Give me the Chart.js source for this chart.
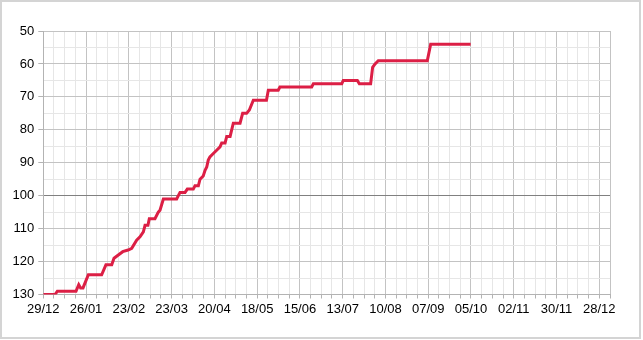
<!DOCTYPE html>
<html>
<head>
<meta charset="utf-8">
<script src="https://cdn.jsdelivr.net/npm/chart.js@4/dist/chart.umd.min.js"></script>
<style>
  html, body { margin: 0; padding: 0; background: #fff; }
  #wrap { width: 643px; height: 340px; position: relative; }
  canvas { display: block; }
</style>
</head>
<body>
<div id="wrap"><canvas id="c" width="643" height="340"></canvas></div>
<script>
// Start date of the axis (day 0) and data
const startDate = [2014, 11, 29]; // 29/12
const dayOffsets = [0, 7.7, 9.2, 21.4, 23.2, 24.4, 26, 29.5, 38.2, 41, 44.8, 46.3, 49.1, 52, 55.5, 57.9,
  61.1, 63.3, 65.5, 66.6, 68.5, 69.4, 73.1, 75.3, 76.4, 78.6, 87.3, 89.5, 92.8, 94.3, 98.2, 99.3, 101.5,
  102.6, 104.7, 105.9, 107, 108, 109.1, 111.3, 113.5, 115.7, 116.8, 119, 120.1, 122.3, 124.4, 128.8,
  130.5, 133.1, 134.9, 137.5, 146.1, 147.3, 153.8, 154.9, 175.7, 176.8, 195.4, 196.4, 205.6, 206.9,
  214.3, 215.6, 217.2, 219.3, 251.4, 253.6, 279.8];
const values = [130, 130, 129, 129, 127, 128, 128, 124, 124, 121, 121, 119, 118, 117, 116.5, 116,
  113.5, 112.5, 111, 109, 109, 107, 107, 105, 104.4, 101, 101, 99, 99, 98, 98, 97, 97,
  95, 94, 92.3, 91.3, 89.2, 88.2, 87.2, 86.2, 85.2, 84, 84, 82, 82, 78, 78,
  75, 75, 74, 71, 71, 68, 68, 67, 67, 66, 66, 65, 65, 66,
  66, 61, 60, 59, 59, 54, 54];
const xMin = 0, xMax = 371, xStep = 7, xLabelEvery = 28, xLastLabel = 364;
const yMin = 50, yMax = 130, yStep = 5, yLabelEvery = 10, yHighlight = 100;

function dayLabel(d) {
  const dt = new Date(Date.UTC(startDate[0], startDate[1], startDate[2]) + d * 86400000);
  const dd = String(dt.getUTCDate()).padStart(2, '0');
  const mm = String(dt.getUTCMonth() + 1).padStart(2, '0');
  return dd + '/' + mm;
}

const points = dayOffsets.map((d, i) => ({ x: d, y: values[i] }));

const frame = {
  id: 'frame',
  afterDraw(chart) {
    const ctx = chart.ctx;
    ctx.save();
    ctx.strokeStyle = '#d4d4d4';
    ctx.lineWidth = 2;
    ctx.strokeRect(1, 1, 639, 337);
    ctx.restore();
  }
};

const MAJOR = '#c3c3c3', MINOR = '#e6e6e6', DARK = '#808080';

new Chart(document.getElementById('c'), {
  type: 'line',
  data: {
    datasets: [{
      data: points,
      borderColor: '#dc1f45',
      borderWidth: 3,
      pointRadius: 0,
      tension: 0,
      fill: false
    }]
  },
  plugins: [frame],
  options: {
    responsive: false,
    animation: false,
    events: [],
    layout: { padding: { left: 0, right: 33, top: 31, bottom: 0 } },
    plugins: { legend: { display: false }, tooltip: { enabled: false } },
    scales: {
      x: {
        type: 'linear',
        min: xMin, max: xMax,
        afterFit(scale) { scale.height = 340 - 294.5; },
        border: { color: '#b3b3b3', width: 1 },
        grid: {
          drawOnChartArea: true,
          tickLength: 4,
          color(ctx) {
            const v = ctx.tick ? ctx.tick.value : 0;
            return (v % xLabelEvery === 0 || v === xMax) ? MAJOR : MINOR;
          },
          tickColor: '#b3b3b3'
        },
        ticks: {
          stepSize: xStep,
          autoSkip: false,
          maxRotation: 0,
          minRotation: 0,
          padding: 3,
          color: '#000',
          font: { family: 'Liberation Sans', size: 13 },
          callback(v) { return (v % xLabelEvery === 0 && v <= xLastLabel) ? dayLabel(v) : ''; }
        }
      },
      y: {
        type: 'linear',
        min: yMin, max: yMax,
        reverse: true,
        afterFit(scale) { scale.width = 43.3; },
        border: { color: '#b3b3b3', width: 1 },
        grid: {
          tickLength: 5,
          color(ctx) {
            const v = ctx.tick ? ctx.tick.value : 0;
            if (v === yHighlight) return DARK;
            return v % yLabelEvery === 0 ? MAJOR : MINOR;
          },
          tickColor(ctx) {
            const v = ctx.tick ? ctx.tick.value : 0;
            return v % yLabelEvery === 0 ? '#b3b3b3' : 'rgba(0,0,0,0)';
          }
        },
        ticks: {
          stepSize: yStep,
          autoSkip: false,
          padding: 4,
          color: '#000',
          font: { family: 'Liberation Sans', size: 13 },
          callback(v) { return v % yLabelEvery === 0 ? String(v) : ''; }
        }
      }
    }
  }
});
</script>
</body>
</html>
